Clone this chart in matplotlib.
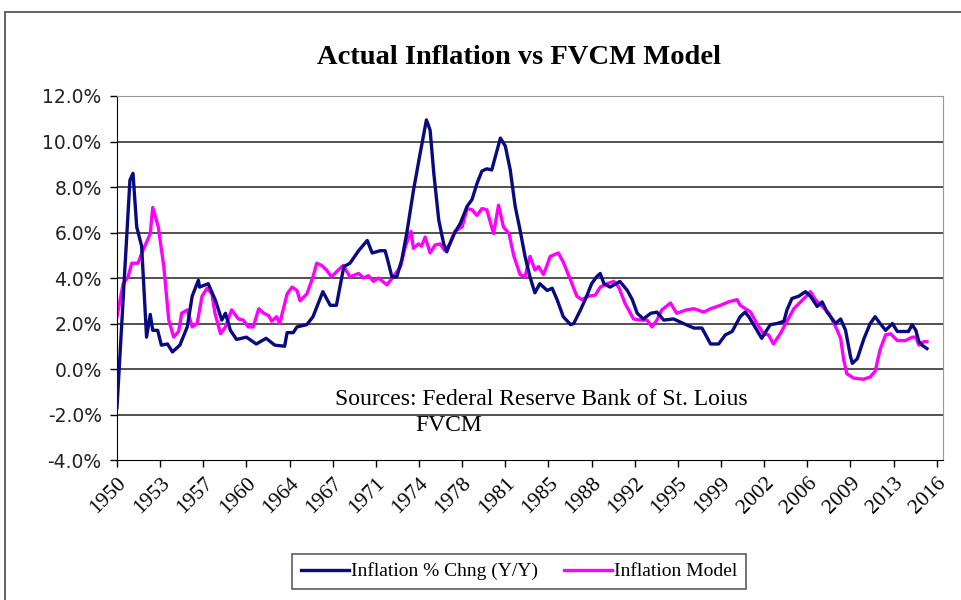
import matplotlib.pyplot as plt
from matplotlib.patches import Rectangle
from matplotlib.ticker import FuncFormatter

# Inflation % Chng (Y/Y)
actual_years = [
    1950.0, 1951.05, 1951.3, 1951.6, 1952.0, 1952.4, 1952.7, 1952.9, 1953.3, 1953.6,
    1954.1, 1954.5, 1955.1, 1955.7, 1956.1, 1956.6, 1956.7, 1957.4, 1958.0, 1958.5,
    1958.8, 1959.2, 1959.7, 1960.5, 1961.3, 1962.1, 1962.8, 1963.6, 1963.8, 1964.3,
    1964.6, 1965.4, 1965.9, 1966.7, 1967.3, 1967.8, 1968.4, 1968.9, 1969.6, 1970.3,
    1970.7, 1971.35, 1971.75, 1972.0, 1972.3, 1972.7, 1973.1, 1973.5, 1974.05, 1974.6,
    1975.1, 1975.4, 1975.7, 1976.1, 1976.5, 1976.75, 1977.0, 1977.4, 1977.85, 1978.4,
    1978.8, 1979.2, 1979.6, 1980.0, 1980.4, 1980.7, 1981.1, 1981.5, 1981.9, 1982.3,
    1982.7, 1983.1, 1983.5, 1983.9, 1984.3, 1984.9, 1985.3, 1985.7, 1986.2, 1986.8,
    1987.05, 1987.6, 1988.1, 1988.5, 1988.9, 1989.2, 1989.5, 1990.0, 1990.8, 1991.4,
    1991.8, 1992.2, 1992.7, 1993.3, 1993.8, 1994.35, 1995.15, 1995.95, 1996.8, 1997.45,
    1997.85, 1998.15, 1998.8, 1999.35, 1999.9, 2000.55, 2000.95, 2001.25, 2001.8, 2002.3,
    2002.7, 2003.0, 2003.55, 2004.1, 2004.35, 2004.75, 2005.3, 2005.85, 2006.25, 2006.8,
    2007.2, 2007.6, 2008.3, 2008.7, 2009.1, 2009.5, 2009.65, 2010.05, 2010.6, 2011.1,
    2011.5, 2011.9, 2012.35, 2012.9, 2013.3, 2013.8, 2014.2, 2014.5, 2014.8, 2015.05,
    2015.3, 2015.7,
]
actual_pct = [
    -1.7, 8.3, 8.6, 6.25, 5.4, 1.4, 2.4, 1.7, 1.7, 1.05,
    1.1, 0.75, 1.05, 1.85, 3.2, 3.9, 3.6, 3.75, 3.0, 2.15,
    2.45, 1.7, 1.3, 1.4, 1.1, 1.35, 1.05, 1.0, 1.6, 1.6,
    1.85, 1.95, 2.3, 3.4, 2.8, 2.8, 4.5, 4.65, 5.2, 5.65,
    5.1, 5.2, 5.2, 4.7, 4.05, 4.05, 4.8, 5.95, 7.85, 9.5,
    10.95, 10.5, 8.6, 6.55, 5.5, 5.15, 5.5, 6.0, 6.4, 7.15,
    7.45, 8.15, 8.7, 8.8, 8.75, 9.35, 10.15, 9.8, 8.75, 7.15,
    6.1, 4.95, 4.05, 3.35, 3.75, 3.45, 3.55, 3.05, 2.3, 1.95,
    2.0, 2.6, 3.2, 3.75, 4.05, 4.2, 3.75, 3.6, 3.85, 3.45,
    3.05, 2.45, 2.2, 2.45, 2.5, 2.15, 2.2, 2.0, 1.8, 1.8,
    1.4, 1.1, 1.1, 1.5, 1.65, 2.3, 2.5, 2.3, 1.8, 1.35,
    1.7, 1.95, 2.0, 2.1, 2.6, 3.1, 3.2, 3.4, 3.2, 2.75,
    2.95, 2.5, 2.0, 2.2, 1.7, 0.55, 0.25, 0.45, 1.35, 2.0,
    2.3, 2.0, 1.7, 2.0, 1.65, 1.65, 1.65, 1.95, 1.7, 1.2,
    1.05, 0.9,
]

# Inflation Model (FVCM)
model_years = [
    1950.0, 1950.5, 1950.9, 1951.2, 1951.7, 1952.1, 1952.7, 1952.9, 1953.35, 1953.8,
    1954.2, 1954.6, 1955.0, 1955.25, 1955.7, 1956.1, 1956.5, 1956.9, 1957.3, 1957.7,
    1957.95, 1958.4, 1958.8, 1959.3, 1959.85, 1960.25, 1960.65, 1961.05, 1961.5, 1961.9,
    1962.3, 1962.55, 1962.95, 1963.2, 1963.8, 1964.2, 1964.6, 1964.85, 1965.4, 1965.9,
    1966.2, 1966.6, 1967.0, 1967.4, 1967.95, 1968.35, 1968.9, 1969.6, 1970.0, 1970.4,
    1970.8, 1971.2, 1971.9, 1972.4, 1973.0, 1973.4, 1973.85, 1974.05, 1974.45, 1974.7,
    1975.0, 1975.4, 1975.8, 1976.2, 1976.6, 1977.0, 1977.4, 1978.0, 1978.4, 1978.8,
    1979.2, 1979.6, 1980.0, 1980.55, 1980.95, 1981.35, 1981.8, 1982.2, 1982.7, 1983.1,
    1983.5, 1983.9, 1984.2, 1984.6, 1985.15, 1985.8, 1986.2, 1986.8, 1987.3, 1987.7,
    1988.25, 1988.8, 1989.2, 1989.75, 1990.3, 1990.7, 1991.2, 1991.9, 1992.45, 1993.0,
    1993.4, 1993.8, 1994.2, 1994.9, 1995.4, 1996.2, 1996.8, 1997.6, 1998.15, 1998.95,
    1999.6, 2000.3, 2000.55, 2001.4, 2001.9, 2002.45, 2002.85, 2003.25, 2003.8, 2004.35,
    2004.9, 2005.45, 2006.0, 2006.25, 2006.65, 2007.2, 2007.75, 2008.3, 2008.7, 2008.95,
    2009.2, 2009.75, 2010.55, 2011.1, 2011.5, 2011.9, 2012.35, 2012.75, 2013.3, 2013.95,
    2014.5, 2014.8, 2015.05, 2015.45, 2015.7,
]
model_pct = [
    2.3, 3.75, 4.05, 4.65, 4.65, 5.2, 5.95, 7.1, 6.25, 4.5,
    2.15, 1.4, 1.65, 2.45, 2.6, 1.85, 2.0, 3.2, 3.55, 3.3,
    2.45, 1.55, 1.85, 2.6, 2.2, 2.15, 1.85, 1.85, 2.65, 2.45,
    2.35, 2.1, 2.3, 2.0, 3.3, 3.6, 3.45, 3.0, 3.3, 4.05,
    4.65, 4.55, 4.35, 4.05, 4.35, 4.55, 4.05, 4.2, 4.0, 4.1,
    3.85, 4.0, 3.7, 4.05, 4.5, 5.4, 6.05, 5.3, 5.5, 5.4,
    5.8, 5.1, 5.45, 5.5, 5.2, 5.5, 6.05, 6.25, 7.05, 7.0,
    6.75, 7.05, 7.0, 5.95, 7.2, 6.25, 5.95, 4.95, 4.15, 4.05,
    4.95, 4.35, 4.5, 4.15, 4.95, 5.1, 4.7, 3.9, 3.2, 3.05,
    3.2, 3.25, 3.6, 3.75, 3.85, 3.6, 2.9, 2.2, 2.15, 2.15,
    1.85, 2.15, 2.6, 2.9, 2.45, 2.6, 2.65, 2.5, 2.65, 2.8,
    2.95, 3.05, 2.8, 2.5, 2.0, 1.55, 1.5, 1.1, 1.55, 2.1,
    2.65, 2.95, 3.25, 3.4, 3.05, 2.75, 2.45, 1.85, 1.35, 0.4,
    -0.2, -0.4, -0.45, -0.35, -0.1, 0.85, 1.5, 1.55, 1.25, 1.25,
    1.4, 1.4, 1.05, 1.2, 1.2,
]

# excel category axis: a label every 14 quarters
tick_pos = [1950 + 3.5 * i for i in range(20)]
tick_labels = [str(int(t)) for t in tick_pos]
y_ticks = [-4, -2, 0, 2, 4, 6, 8, 10, 12]

SERIF = ['Liberation Serif', 'DejaVu Serif']
SANS = ['DejaVu Sans']

fig = plt.figure(figsize=(9.62, 6.0), dpi=100)
ax = fig.add_axes([0.1216, 0.2333, 0.8586, 0.6067])

# outer chart border
fig.patches.append(Rectangle((5 / 962, -0.05), 1.1, 1.05 - 12 / 600,
                             transform=fig.transFigure, fill=False,
                             edgecolor='#555555', linewidth=1.3))

for y in y_ticks[1:-1]:
    ax.axhline(y, color='#222222', linewidth=1.1, zorder=1)

ax.plot(actual_years, actual_pct, color='#0a0a80', linewidth=2.4,
        label='Inflation % Chng (Y/Y)', zorder=3)
ax.plot(model_years, model_pct, color='#ff00ff', linewidth=2.4,
        label='Inflation Model', zorder=2)

ax.set_xlim(1950, 2017)
ax.set_ylim(-4, 12)
ax.set_yticks(y_ticks)
ax.yaxis.set_major_formatter(FuncFormatter(lambda v, p: f'{v:.1f}%'))
ax.set_xticks(tick_pos)
ax.set_xticklabels(tick_labels, rotation=45, ha='right',
                   rotation_mode='anchor', family=SERIF, fontsize=15.5)
for lbl in ax.get_yticklabels():
    lbl.set_family(SANS)
    lbl.set_fontsize(13.5)
    lbl.set_color('#222222')

ax.tick_params(axis='both', direction='out', length=5, width=1, color='black')
ax.tick_params(axis='x', pad=5)
ax.tick_params(axis='y', pad=6)
for side in ['top', 'right']:
    ax.spines[side].set_color('#999999')
for side in ['left', 'bottom']:
    ax.spines[side].set_color('black')

ax.text(1967.7, -1.33, 'Sources: Federal Reserve Bank of St. Loius',
        family=SERIF, fontsize=17, va='center', ha='left')
ax.text(1974.2, -2.5, 'FVCM', family=SERIF, fontsize=17,
        va='center', ha='left')

fig.text(0.54, 0.905, 'Actual Inflation vs FVCM Model', family=SERIF,
         fontsize=20.5, fontweight='bold', ha='center', va='center')

leg = fig.legend(loc='center', bbox_to_anchor=(0.5395, 0.0475), ncol=2,
                 prop={'family': SERIF, 'size': 14}, frameon=True,
                 fancybox=False, edgecolor='#333333', handlelength=2.5,
                 handletextpad=0.1, columnspacing=1.3, borderpad=0.45,
                 borderaxespad=0)
leg.get_frame().set_linewidth(1.2)

plt.savefig('out.png', dpi=100)
